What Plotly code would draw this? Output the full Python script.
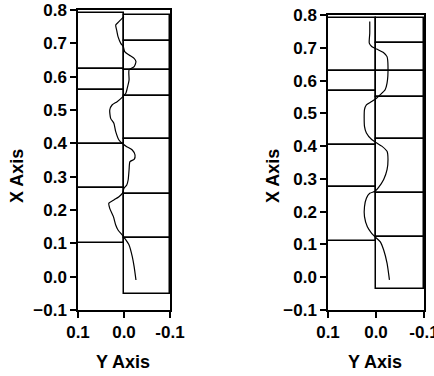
import plotly.graph_objects as go

# ---------------- data ----------------
# Box edges (X Axis values) for the positive side (left, 0..0.1) and negative side (right, 0..-0.1)
left_pos_edges = [0.79, 0.622, 0.56, 0.397, 0.265, 0.101]
left_neg_edges = [0.785, 0.707, 0.62, 0.542, 0.412, 0.247, 0.116, -0.051]
right_pos_edges = [0.79, 0.628, 0.567, 0.402, 0.276, 0.111]
right_neg_edges = [0.79, 0.714, 0.63, 0.549, 0.422, 0.258, 0.124, -0.037]
box_extent = 0.1

# Profile curves (Y Axis value, X Axis value)
left_curve_x = [0.0, 0.011, 0.018, 0.016, 0.013, 0.007, 0.0015, -0.0015, -0.011, -0.022, -0.026,
                -0.022, -0.011, -0.011, -0.007, -0.004, 0.004, 0.015, 0.026, 0.031, 0.029, 0.022,
                0.018, 0.011, 0.0015, -0.006, -0.018, -0.024, -0.022, -0.013, -0.011, -0.009,
                -0.006, 0.0, 0.0036, 0.011, 0.022, 0.033, 0.031, 0.023, 0.018, 0.013, 0.004,
                -0.0015, -0.011, -0.018, -0.022, -0.026]
left_curve_y = [0.78, 0.765, 0.755, 0.74, 0.72, 0.70, 0.69, 0.675, 0.665, 0.655, 0.645,
                0.63, 0.62, 0.59, 0.565, 0.55, 0.538, 0.525, 0.515, 0.50, 0.475, 0.46,
                0.435, 0.41, 0.397, 0.39, 0.38, 0.365, 0.352, 0.345, 0.32, 0.29,
                0.275, 0.265, 0.25, 0.24, 0.23, 0.22, 0.205, 0.18, 0.155, 0.14, 0.125,
                0.115, 0.095, 0.06, 0.03, -0.01]
right_curve_x = [0.013, 0.013, 0.014, 0.009, -0.0014, -0.016, -0.023, -0.025, -0.023, -0.019,
                 -0.009, -0.001, 0.009, 0.02, 0.024, 0.024, 0.02, 0.009, -0.001, -0.012, -0.023,
                 -0.025, -0.023, -0.016, -0.005, 0.002, 0.013, 0.02, 0.024, 0.024, 0.018, 0.009,
                 0.001, -0.009, -0.016, -0.023, -0.028]
right_curve_y = [0.78, 0.744, 0.714, 0.704, 0.696, 0.685, 0.673, 0.643, 0.592, 0.572,
                 0.557, 0.546, 0.536, 0.526, 0.511, 0.46, 0.44, 0.42, 0.41, 0.40, 0.384,
                 0.359, 0.328, 0.298, 0.273, 0.262, 0.256, 0.241, 0.215, 0.185, 0.154, 0.134,
                 0.122, 0.108, 0.083, 0.043, -0.008]

y_ticks = [-0.1, 0.0, 0.1, 0.2, 0.3, 0.4, 0.5, 0.6, 0.7, 0.8]
x_ticks = [0.1, 0.0, -0.1]
x_tick_text = ["0.1", "0.0", "-0.1"]
x_title = "Y Axis"
y_title = "X Axis"

# ---------------- figure ----------------
FONT = "Liberation Sans, Arial, sans-serif"
fig = go.Figure()


def boxes(edges, sign, xa, ya):
    mids = [(edges[i] + edges[i + 1]) / 2 for i in range(len(edges) - 1)]
    widths = [edges[i] - edges[i + 1] for i in range(len(edges) - 1)]
    return go.Bar(y=mids, x=[sign * box_extent] * len(mids), base=0, width=widths,
                  orientation="h", marker=dict(color="white", line=dict(color="black", width=1.5)),
                  xaxis=xa, yaxis=ya, showlegend=False, hoverinfo="skip")


fig.add_trace(boxes(left_pos_edges, 1, "x", "y"))
fig.add_trace(boxes(left_neg_edges, -1, "x", "y"))
fig.add_trace(boxes(right_pos_edges, 1, "x2", "y2"))
fig.add_trace(boxes(right_neg_edges, -1, "x2", "y2"))

fig.add_trace(go.Scatter(x=left_curve_x, y=left_curve_y, mode="lines", line=dict(color="black", width=1.2, shape="spline", smoothing=0.6),
                         xaxis="x", yaxis="y", showlegend=False))
fig.add_trace(go.Scatter(x=right_curve_x, y=right_curve_y, mode="lines", line=dict(color="black", width=1.2, shape="spline", smoothing=0.6),
                         xaxis="x2", yaxis="y2", showlegend=False))

W, H = 434, 376
common_x = dict(range=[0.1, -0.1], tickvals=x_ticks, ticktext=x_tick_text, ticks="outside", ticklen=6,
                tickwidth=1.5, tickcolor="black", showline=True, linecolor="black", linewidth=1.5,
                mirror=True, showgrid=False, zeroline=False, automargin=False,
                ticklabeloverflow="allow",
                tickfont=dict(family=FONT, size=17, color="black", weight="bold"))
common_y = dict(range=[-0.1, 0.8], tickvals=y_ticks, tickformat=".1f", ticks="outside", ticklen=6,
                tickwidth=1.5, tickcolor="black", showline=True, linecolor="black", linewidth=1.5,
                mirror=True, showgrid=False, zeroline=False, automargin=False,
                tickfont=dict(family=FONT, size=17, color="black", weight="bold"))

fig.update_layout(
    width=W, height=H, margin=dict(l=0, r=0, t=0, b=0, autoexpand=False),
    paper_bgcolor="white", plot_bgcolor="white", barmode="overlay", bargap=0,
    xaxis=dict(domain=[78 / W, 170 / W], anchor="y", **common_x),
    yaxis=dict(domain=[(H - 310) / H, (H - 10) / H], anchor="x", **common_y),
    xaxis2=dict(domain=[328 / W, 424 / W], anchor="y2", **common_x),
    yaxis2=dict(domain=[(H - 310) / H, (H - 15) / H], anchor="x2", **common_y),
)

tf = dict(family=FONT, size=18, color="black", weight="bold")
for cx in (123, 375):
    fig.add_annotation(text=x_title, x=cx / W, y=(H - 362) / H, xref="paper", yref="paper",
                       showarrow=False, font=tf, xanchor="center", yanchor="middle")
for cx in (17, 273):
    fig.add_annotation(text=y_title, x=cx / W, y=(H - 176) / H, xref="paper", yref="paper",
                       showarrow=False, font=tf, textangle=-90, xanchor="center", yanchor="middle")

fig.write_html("out.html", config={"displayModeBar": False},
               post_script="document.body.style.margin='0';document.body.style.overflow='hidden';")
